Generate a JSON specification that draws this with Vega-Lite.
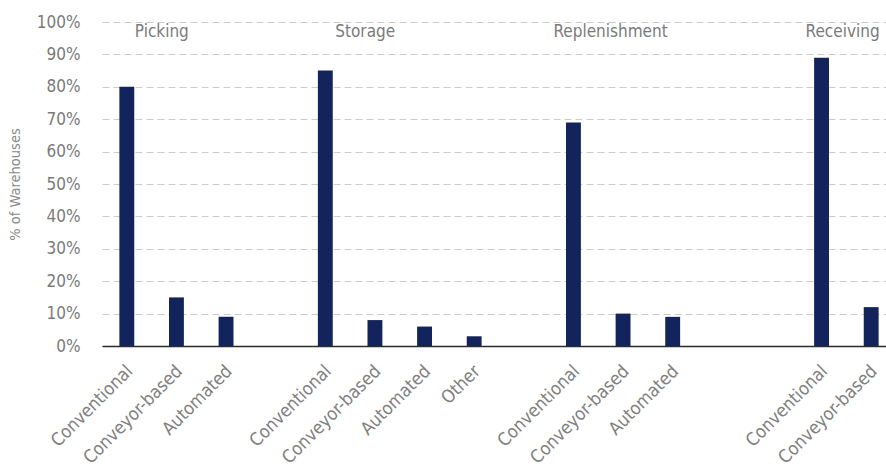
{
  "$schema": "https://vega.github.io/schema/vega-lite/v6.json",
  "autosize": {"type": "none"},
  "width": 784,
  "height": 324,
  "padding": {"left": 102, "top": 22, "right": 0, "bottom": 121},
  "background": "white",
  "config": {
    "view": {"stroke": null},
    "font": "DejaVu Sans Condensed",
    "axisY": {"tickCount": 10, "labelOverlap": false}
  },
  "datasets": {
    "bars": [
      {"key": "Picking/Conventional", "group": "Picking", "pct": 80},
      {"key": "Picking/Conveyor-based", "group": "Picking", "pct": 15},
      {"key": "Picking/Automated", "group": "Picking", "pct": 9},
      {"key": "Storage/Conventional", "group": "Storage", "pct": 85},
      {"key": "Storage/Conveyor-based", "group": "Storage", "pct": 8},
      {"key": "Storage/Automated", "group": "Storage", "pct": 6},
      {"key": "Storage/Other", "group": "Storage", "pct": 3},
      {"key": "Replenishment/Conventional", "group": "Replenishment", "pct": 69},
      {"key": "Replenishment/Conveyor-based", "group": "Replenishment", "pct": 10},
      {"key": "Replenishment/Automated", "group": "Replenishment", "pct": 9},
      {"key": "Receiving/Conventional", "group": "Receiving", "pct": 89},
      {"key": "Receiving/Conveyor-based", "group": "Receiving", "pct": 12}
    ],
    "titles": [
      {"key": "Picking/Conventional", "group": "Picking"},
      {"key": "Storage/Conventional", "group": "Storage"},
      {"key": "Replenishment/Conventional", "group": "Replenishment"},
      {"key": "Receiving/Conventional", "group": "Receiving"}
    ]
  },
  "encoding": {
    "x": {
      "field": "key",
      "type": "nominal",
      "sort": null,
      "scale": {
        "domain": [
          "Picking/Conventional", "Picking/Conveyor-based", "Picking/Automated", "gap1",
          "Storage/Conventional", "Storage/Conveyor-based", "Storage/Automated", "Storage/Other", "gap2",
          "Replenishment/Conventional", "Replenishment/Conveyor-based", "Replenishment/Automated", "gap3", "gap4",
          "Receiving/Conventional", "Receiving/Conveyor-based"
        ],
        "range": [0, 794],
        "paddingInner": 0.7,
        "paddingOuter": 0.35
      },
      "axis": {
        "title": null,
        "labelExpr": "indexof(datum.value, '/') >= 0 ? split(datum.value, '/')[1] : ''",
        "labelAngle": -45,
        "labelFontSize": 18,
        "labelColor": "#808080",
        "labelPadding": 16,
        "labelOffset": -3,
        "labelOverlap": false,
        "ticks": false,
        "domainColor": "#2b2b2b",
        "domainWidth": 1.5,
        "grid": false
      }
    }
  },
  "layer": [
    {
      "data": {"name": "bars"},
      "mark": {"type": "bar", "color": "#13235b"},
      "encoding": {
        "y": {
          "field": "pct",
          "type": "quantitative",
          "scale": {"domain": [0, 100], "nice": false},
          "axis": {
            "title": "% of Warehouses",
            "titleFontSize": 14.5,
            "titleFontWeight": "normal",
            "titleColor": "#8a8a8a",
            "titlePadding": 14,
            "tickCount": 10,
            "labelExpr": "datum.value + '%'",
            "labelFontSize": 17,
            "labelColor": "#7a7a7a",
            "labelPadding": 22,
            "labelOverlap": false,
            "domain": false,
            "ticks": false,
            "grid": true,
            "gridColor": "#cccccc",
            "gridDash": [7, 4],
            "gridWidth": 1
          }
        }
      }
    },
    {
      "data": {"name": "titles"},
      "transform": [{"filter": "datum.group === 'Picking'"}],
      "mark": {"type": "text", "align": "left", "baseline": "middle", "fontSize": 17, "color": "#7a7a7a", "dx": 8},
      "encoding": {"y": {"datum": 97, "type": "quantitative"}, "text": {"field": "group"}}
    },
    {
      "data": {"name": "titles"},
      "transform": [{"filter": "datum.group === 'Storage'"}],
      "mark": {"type": "text", "align": "left", "baseline": "middle", "fontSize": 17, "color": "#7a7a7a", "dx": 10},
      "encoding": {"y": {"datum": 97, "type": "quantitative"}, "text": {"field": "group"}}
    },
    {
      "data": {"name": "titles"},
      "transform": [{"filter": "datum.group === 'Replenishment'"}],
      "mark": {"type": "text", "align": "left", "baseline": "middle", "fontSize": 17, "color": "#7a7a7a", "dx": -20},
      "encoding": {"y": {"datum": 97, "type": "quantitative"}, "text": {"field": "group"}}
    },
    {
      "data": {"name": "titles"},
      "transform": [{"filter": "datum.group === 'Receiving'"}],
      "mark": {"type": "text", "align": "left", "baseline": "middle", "fontSize": 17, "color": "#7a7a7a", "dx": -16},
      "encoding": {"y": {"datum": 97, "type": "quantitative"}, "text": {"field": "group"}}
    }
  ]
}
